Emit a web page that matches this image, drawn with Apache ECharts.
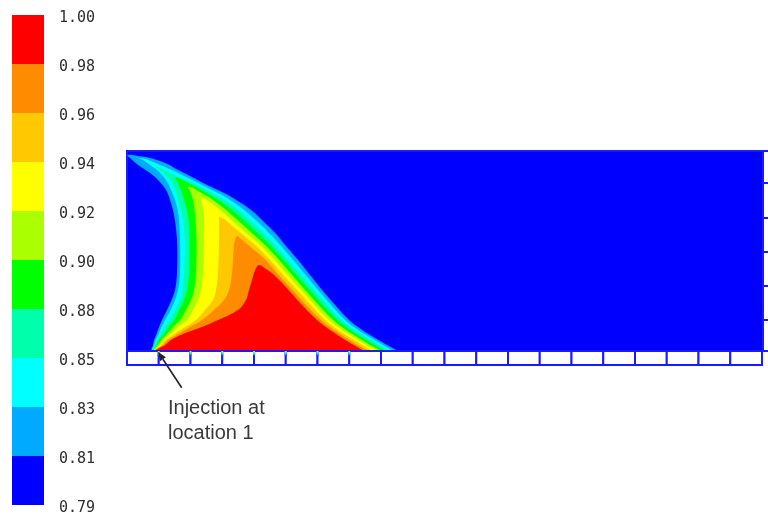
<!DOCTYPE html>
<html>
<head>
<meta charset="utf-8">
<script src="https://cdn.jsdelivr.net/npm/echarts@6/dist/echarts.min.js"></script>
<style>
  html, body { margin: 0; padding: 0; background: #ffffff; }
  #chart { width: 768px; height: 519px; }
</style>
</head>
<body>
<div id="chart"></div>
<script>
// Colour scale: band edges and the fill of each band (lowest first)
const levelLabels = ['0.79', '0.81', '0.83', '0.85', '0.88', '0.90', '0.92', '0.94', '0.96', '0.98', '1.00'];
const bandColors = ['#0000FF', '#00AAFF', '#00FFFF', '#00FFAA', '#00FF00', '#AAFF00', '#FFFF00', '#FFC800', '#FF8C00', '#FF0000'];

// Channel geometry (x along the bed, y above the wall)
const domainLength = 636;
const domainHeight = 200;
const wallDepth = 14;
const wallCellEdges = [0, 31.75, 63.5, 95.25, 127, 158.75, 190.5, 222.25, 254, 285.75, 317.5,
  349.25, 381, 412.75, 444.5, 476.25, 508, 539.75, 571.5, 603.25, 635];
const outletCellEdges = [0, 31, 65, 99, 133, 168, 200];
// Wall partitions that sit under the plume and pick up its colour at the top
const wettedPartitions = [31.75, 63.5, 95.25, 127, 158.75, 190.5, 222.25];

// Injection point on the wall and its annotation
const injectionPoint = [31, -0.7];
const annotationLines = ['Injection at', 'location 1'];

// Iso-contours of the plume, outermost (0.81) to innermost (0.98)
const contour081 = [[25,0],[26,6],[27,11],[29.5,17],[32,24],[35,31],[40,41],[44.5,51],[48,61],[50,78],[50,111],[47,136],[43,151],[39,161],[31,171],[23,178],[11,186],[3,193],[0.5,196],[11,195],[23,193],[38,188],[51,181],[65,174],[78,167],[93,160],[106,153],[124,141],[140,126],[150,116],[158,106],[171,91],[183,76],[195,61],[208,46],[222,31],[235,21],[248,13],[260,6],[269,0]];
const contour083 = [[25.5,0],[27,6],[28.5,11],[31.5,17],[34.5,24],[38,31],[43.5,41],[48,51],[51,61],[53,78],[53,111],[51.5,136],[48,151],[44,161],[39,171],[30,181],[23,186],[16,191],[12,193],[19,192],[26,189],[33,186],[45,181],[59,174],[73,167],[87,160],[100,153],[117,141],[134,126],[144,116],[153,106],[166,91],[178.5,76],[191,61],[204,46],[218,31],[231,21],[244,13],[256,6],[264.5,0]];
const contour085 = [[26,0],[28,6],[30,11],[34,17],[37.5,24],[43,31],[48,41],[53,51],[55.5,61],[57,78],[58,111],[55,136],[51,151],[48,161],[43,171],[35,179],[29,184],[33,183],[36,181],[51,174],[68,167],[81,160],[94,153],[111,141],[128,126],[138,116],[148,106],[161,91],[174,76],[186.5,61],[200,46],[214,31],[227,21],[240,13],[251.5,6],[260,0]];
const contour088 = [[26.5,0],[29.5,6],[32,11],[37,17],[41.5,24],[47,31],[52,41],[57,51],[60,61],[62,78],[62.5,111],[61,136],[57,151],[54,161],[50,170],[48,174],[55,171],[63,167],[76,160],[88,153],[105,141],[122,126],[132.5,116],[143,106],[156.5,91],[169.5,76],[182.5,61],[195.5,46],[210,31],[223,21],[235.5,13],[247.5,6],[256,0]];
const contour090 = [[27,0],[31,6],[34,11],[40,17],[46,24],[53,31],[59,41],[64,51],[67,61],[69,78],[69.5,111],[68,136],[66,151],[63,160],[61,164],[66,163],[71,160],[83,153],[99,141],[116,126],[127,116],[138,106],[152,91],[165,76],[178,61],[191.5,46],[206,31],[219,21],[231.5,13],[243,6],[252,0]];
const contour092 = [[27.5,0],[32.5,6],[36,11],[43.5,17],[51,24],[60,31],[66,41],[71,51],[74,61],[76,78],[77,111],[77,136],[75,148],[74,153],[81,150],[93,141],[110,126],[121.5,116],[133,106],[147.5,91],[160.5,76],[174,61],[187.5,46],[202,31],[215,21],[227.5,13],[239,6],[248,0]];
const contour094 = [[28,0],[34,6],[38.5,11],[47,17],[58,24],[69,31],[78,41],[86,51],[89,61],[91,78],[92,111],[92,129],[92,134],[97,132],[104,126],[116,116],[128,106],[143,91],[156,76],[170,61],[183.5,46],[198,31],[211,21],[223.5,13],[235,6],[243,0]];
const contour096 = [[28.5,0],[36,6],[41,11],[51,17],[63,24],[75,31],[87,41],[97,51],[102,61],[105,78],[107,106],[108,111],[110,115],[115,111],[121,106],[138.5,91],[151.5,76],[165.5,61],[179,46],[194,31],[207,21],[219,13],[230.5,6],[239,0]];
const contour098 = [[29,0],[38,6],[44,11],[56,17],[75,24],[91,31],[111,41],[119,51],[122,61],[125,71],[127,78],[129,83],[132,86],[136,84],[147,76],[161.5,61],[175,46],[190,31],[203,21],[215,13],[226.5,6],[235,0]];

const contours = [contour081, contour083, contour085, contour088, contour090, contour092, contour094, contour096, contour098];

const WALL_BLUE = '#1A1AFF';
const TEXT_GREY = '#2E2E2E';

const chart = echarts.init(document.getElementById('chart'), null, { renderer: 'canvas' });

// Filled region of one contour level, drawn through the axis scales
function contourSeries(points, color, z) {
  return {
    type: 'custom',
    xAxisIndex: 0,
    yAxisIndex: 0,
    z: z,
    silent: true,
    clip: false,
    data: [[0, 0]],
    renderItem: function (params, api) {
      return {
        type: 'polygon',
        shape: { points: points.map(function (p) { return api.coord(p); }), smooth: 0.35 },
        style: { fill: color }
      };
    }
  };
}

function rectBetween(api, x0, y0, x1, y1) {
  const a = api.coord([x0, y0]);
  const b = api.coord([x1, y1]);
  return { x: Math.min(a[0], b[0]), y: Math.min(a[1], b[1]), width: Math.abs(b[0] - a[0]), height: Math.abs(b[1] - a[1]) };
}

const series = [];

// Channel interior (background level)
series.push({
  type: 'custom', xAxisIndex: 0, yAxisIndex: 0, z: 1, silent: true, clip: false,
  data: [[0, 0]],
  renderItem: function (params, api) {
    return {
      type: 'rect',
      shape: rectBetween(api, 0, 0, domainLength, domainHeight),
      style: { fill: bandColors[0], stroke: WALL_BLUE, lineWidth: 2 }
    };
  }
});

contours.forEach(function (pts, i) {
  series.push(contourSeries(pts, bandColors[i + 1], 2 + i));
});

// Wall cells along the bed
series.push({
  type: 'custom', xAxisIndex: 0, yAxisIndex: 0, z: 20, silent: true, clip: false,
  data: wallCellEdges.slice(0, -1).map(function (x0, i) { return [x0, wallCellEdges[i + 1]]; }),
  renderItem: function (params, api) {
    const x0 = api.value(0), x1 = api.value(1);
    return {
      type: 'rect',
      shape: rectBetween(api, x0, 0, x1, -wallDepth),
      style: { fill: '#FFFFFF', stroke: WALL_BLUE, lineWidth: 2 }
    };
  }
});

// Coloured tops of the partitions under the plume
series.push({
  type: 'custom', xAxisIndex: 0, yAxisIndex: 0, z: 21, silent: true, clip: false,
  data: wettedPartitions.map(function (x) { return [x]; }),
  renderItem: function (params, api) {
    const r = rectBetween(api, api.value(0), 0, api.value(0), -5);
    return {
      type: 'rect',
      shape: { x: r.x - 1, y: r.y, width: 2, height: r.height },
      style: {
        fill: new echarts.graphic.LinearGradient(0, 0, 0, 1, [
          { offset: 0, color: '#FFE000' },
          { offset: 0.5, color: '#00FFC0' },
          { offset: 1, color: WALL_BLUE }
        ])
      }
    };
  }
});

// Outlet cells on the right side
series.push({
  type: 'custom', xAxisIndex: 0, yAxisIndex: 0, z: 20, silent: true, clip: false,
  data: outletCellEdges.slice(0, -1).map(function (y0, i) { return [y0, outletCellEdges[i + 1]]; }),
  renderItem: function (params, api) {
    const y0 = api.value(0), y1 = api.value(1);
    return {
      type: 'rect',
      shape: rectBetween(api, domainLength, y0, domainLength + 30, y1),
      style: { fill: '#FFFFFF', stroke: WALL_BLUE, lineWidth: 2 }
    };
  }
});

// Annotation arrow pointing at the injection location
series.push({
  type: 'custom', xAxisIndex: 0, yAxisIndex: 0, z: 30, silent: true, clip: false,
  data: [injectionPoint],
  renderItem: function (params, api) {
    const tip = api.coord([api.value(0), api.value(1)]);
    const tail = api.coord([api.value(0) + 23.7, api.value(1) - 36]);
    const dx = tip[0] - tail[0], dy = tip[1] - tail[1];
    const len = Math.sqrt(dx * dx + dy * dy);
    const ux = dx / len, uy = dy / len;
    const headLen = 9, headHalf = 3.5;
    const base = [tip[0] - ux * headLen, tip[1] - uy * headLen];
    const textLeft = api.coord([api.value(0) + 10, 0])[0];
    const line1 = api.coord([0, api.value(1) - 57])[1];
    const line2 = api.coord([0, api.value(1) - 82])[1];
    const font = '"Liberation Sans", Arial, sans-serif';
    return {
      type: 'group',
      children: [
        { type: 'line', shape: { x1: tail[0], y1: tail[1], x2: base[0], y2: base[1] },
          style: { stroke: '#222222', lineWidth: 1.6 } },
        { type: 'polygon', shape: { points: [tip,
            [base[0] - uy * headHalf, base[1] + ux * headHalf],
            [base[0] + uy * headHalf, base[1] - ux * headHalf]] },
          style: { fill: '#222222' } },
        { type: 'text', x: textLeft, y: line1,
          style: { text: annotationLines[0], fill: '#3A3A3A', fontSize: 20, fontFamily: font, align: 'left', verticalAlign: 'middle' } },
        { type: 'text', x: textLeft, y: line2,
          style: { text: annotationLines[1], fill: '#3A3A3A', fontSize: 20, fontFamily: font, align: 'left', verticalAlign: 'middle' } }
      ]
    };
  }
});

// Colour bar
series.push({
  type: 'custom', xAxisIndex: 1, yAxisIndex: 1, z: 5, silent: true, clip: false,
  data: bandColors.map(function (c, i) { return [i]; }),
  renderItem: function (params, api) {
    const i = api.value(0);
    return {
      type: 'rect',
      shape: rectBetween(api, 0, i, 1, i + 1),
      style: { fill: bandColors[i] }
    };
  }
});

chart.setOption({
  animation: false,
  backgroundColor: '#FFFFFF',
  grid: [
    { left: 127, top: 151, width: 641, height: 215, outerBoundsMode: 'none' },
    { left: 12, top: 15, width: 32, height: 490, outerBoundsMode: 'none' }
  ],
  xAxis: [
    { gridIndex: 0, type: 'value', min: 0, max: 641, show: false },
    { gridIndex: 1, type: 'value', min: 0, max: 1, show: false }
  ],
  yAxis: [
    { gridIndex: 0, type: 'value', min: -15, max: 200, show: false },
    { gridIndex: 1, type: 'value', min: 0, max: 10, interval: 1, position: 'right',
      axisLine: { show: false }, axisTick: { show: false }, splitLine: { show: false },
      axisLabel: {
        margin: 15,
        color: TEXT_GREY,
        fontSize: 15,
        fontFamily: '"DejaVu Sans Mono", monospace',
        verticalAlign: 'top',
        lineHeight: 6,
        formatter: function (v) { return levelLabels[v]; }
      }
    }
  ],
  series: series
});
</script>
</body>
</html>
